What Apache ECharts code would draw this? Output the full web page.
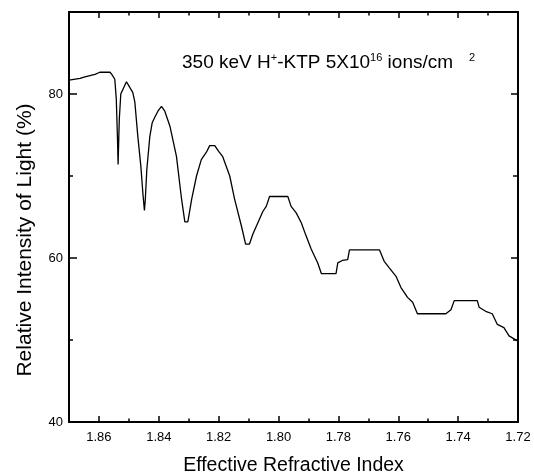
<!DOCTYPE html>
<html><head><meta charset="utf-8">
<script src="https://cdn.jsdelivr.net/npm/echarts@6/dist/echarts.min.js"></script>
<style>html,body{margin:0;padding:0;background:#fff}#c{width:534px;height:475px}</style>
</head><body><div id="c"></div>
<script>
// Effective refractive index (x) and relative intensity of light in % (y)
const refractiveIndex = [
  1.870, 1.8663, 1.8647, 1.8613, 1.8597, 1.8563, 1.8557, 1.8547, 1.8542, 1.8538,
  1.8536, 1.8532, 1.8527, 1.8517, 1.8508, 1.8497, 1.8487, 1.8480, 1.8470, 1.8460,
  1.8453, 1.8448, 1.8445, 1.8440, 1.8430, 1.8422, 1.8413, 1.8403, 1.8391, 1.8380,
  1.8363, 1.8341, 1.8324, 1.8313, 1.8303, 1.8290, 1.8274, 1.8258, 1.8241, 1.8230,
  1.8213, 1.8200, 1.8187, 1.8163, 1.8147, 1.8124, 1.8110, 1.8097, 1.8086, 1.8069,
  1.8052, 1.8041, 1.8030, 1.7969, 1.7958, 1.7941, 1.7924, 1.7908, 1.7891, 1.7869,
  1.7857, 1.7808, 1.7802, 1.7787, 1.7769, 1.7763, 1.7663, 1.7647, 1.7630, 1.7608,
  1.7591, 1.7569, 1.7552, 1.7536, 1.7441, 1.7424, 1.7413, 1.7336, 1.7330, 1.7308,
  1.7286, 1.7269, 1.7247, 1.7230, 1.7202
];
const intensity = [
  81.7, 81.9, 82.1, 82.4, 82.65, 82.65, 82.4, 81.8, 79.4, 74.5,
  71.4, 76.9, 80.0, 80.8, 81.5, 80.8, 80.2, 79.0, 74.8, 71.2,
  67.8, 65.8, 67.2, 70.8, 74.8, 76.5, 77.2, 77.9, 78.5, 77.9,
  76.1, 72.4, 67.2, 64.4, 64.4, 67.2, 70.0, 72.0, 72.9, 73.7,
  73.7, 73.0, 72.4, 70.0, 67.2, 63.9, 61.7, 61.7, 62.9, 64.3,
  65.7, 66.3, 67.5, 67.5, 66.3, 65.5, 64.3, 62.7, 61.1, 59.4,
  58.1, 58.1, 59.4, 59.7, 59.8, 61.0, 61.0, 59.6, 58.8, 57.8,
  56.4, 55.2, 54.6, 53.2, 53.2, 53.7, 54.8, 54.8, 54.0, 53.5,
  53.2, 51.9, 51.5, 50.5, 49.9
];
const xRange = [1.72, 1.87];
const xMajorStep = 0.02, xMinorStep = 0.01;
const yRange = [40, 90];
const yMajorStep = 20, yMinorStep = 10;

const pts = refractiveIndex.map((x, i) => [x, intensity[i]]);
const black = '#000';
const font = 'Liberation Sans, Arial, sans-serif';

function xAx(pos, step, len, showLine, showLabel, extra) {
  return Object.assign({
    type: 'value', position: pos, min: xRange[0], max: xRange[1], interval: step, inverse: true,
    axisLine: { show: showLine, onZero: false, lineStyle: { color: black, width: 2 } },
    axisTick: { show: true, inside: true, length: len, lineStyle: { color: black, width: 1.5 } },
    axisLabel: { show: showLabel, color: black, fontSize: 13, fontFamily: font, margin: 8.5,
      showMaxLabel: false, formatter: v => v.toFixed(2) },
    splitLine: { show: false }
  }, extra || {});
}
function yAx(pos, step, len, showLine, showLabel) {
  return {
    type: 'value', position: pos, min: yRange[0], max: yRange[1], interval: step,
    axisLine: { show: showLine, onZero: false, lineStyle: { color: black, width: 2 } },
    axisTick: { show: true, inside: true, length: len, lineStyle: { color: black, width: 1.5 } },
    axisLabel: { show: showLabel, color: black, fontSize: 13, fontFamily: font, margin: 6,
      showMaxLabel: false },
    splitLine: { show: false }
  };
}

const chart = echarts.init(document.getElementById('c'), null, { renderer: 'canvas' });
chart.setOption({
  animation: false,
  backgroundColor: '#fff',
  grid: { left: 69, right: 16, top: 12, bottom: 53, containLabel: false, outerBoundsMode: 'none' },
  xAxis: [
    xAx('bottom', xMajorStep, 6, true, true, {
      name: 'Effective Refractive Index', nameLocation: 'middle', nameGap: 34,
      nameTextStyle: { color: black, fontSize: 19.5, fontFamily: font }
    }),
    xAx('bottom', xMinorStep, 3.5, false, false),
    xAx('top', xMajorStep, 6, true, false),
    xAx('top', xMinorStep, 3.5, false, false)
  ],
  yAxis: [
    yAx('left', yMajorStep, 8, true, true),
    yAx('left', yMinorStep, 4, false, false),
    yAx('right', yMajorStep, 7, true, false),
    yAx('right', yMinorStep, 5, false, false)
  ],
  series: [{
    type: 'line', xAxisIndex: 0, yAxisIndex: 0, data: pts,
    showSymbol: false, symbol: 'none', smooth: false,
    lineStyle: { color: black, width: 1.3 }
  }],
  graphic: [
    {
      type: 'text', x: 25, y: 240, rotation: Math.PI / 2,
      style: { text: 'Relative Intensity of Light (%)', fill: black, fontSize: 21,
        fontFamily: font, textAlign: 'center', textVerticalAlign: 'middle' }
    },
    {
      type: 'text', x: 182, y: 52,
      style: {
        text: '{m|350 keV H}{s|+}{m|-KTP 5X10}{s|16}{m| ions/cm   }{s|2}',
        fill: black, fontFamily: font,
        rich: {
          m: { fontSize: 19, fill: black, fontFamily: font, verticalAlign: 'bottom', lineHeight: 20 },
          s: { fontSize: 11, fill: black, fontFamily: font, verticalAlign: 'top', lineHeight: 20 }
        }
      }
    }
  ]
});
</script>
</body></html>
